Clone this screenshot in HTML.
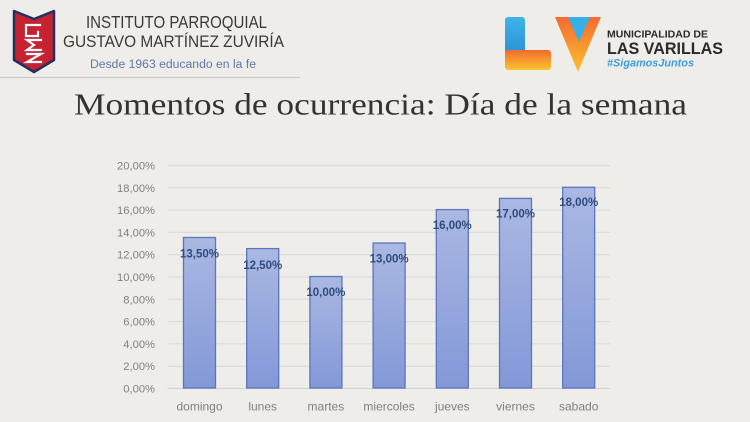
<!DOCTYPE html>
<html>
<head>
<meta charset="utf-8">
<style>
  html,body{margin:0;padding:0;background:#eeede9;}
  body{width:750px;height:422px;overflow:hidden;}
  svg{display:block;}
</style>
</head>
<body>
<svg width="750" height="422" viewBox="0 0 750 422" xmlns="http://www.w3.org/2000/svg">
  <defs>
    <linearGradient id="barg" x1="0" y1="0" x2="0" y2="1">
      <stop offset="0" stop-color="#aab8e2"/>
      <stop offset="1" stop-color="#8398d8"/>
    </linearGradient>
    <linearGradient id="orng" x1="0" y1="0" x2="0" y2="1">
      <stop offset="0" stop-color="#f26a2e"/>
      <stop offset="1" stop-color="#fbc531"/>
    </linearGradient>
    <linearGradient id="vg" x1="0" y1="0" x2="0" y2="1">
      <stop offset="0" stop-color="#f46a30"/>
      <stop offset="1" stop-color="#fcc02e"/>
    </linearGradient>
    <linearGradient id="blg" x1="0" y1="0" x2="0" y2="1">
      <stop offset="0" stop-color="#3fb4ea"/>
      <stop offset="1" stop-color="#2a8fd6"/>
    </linearGradient>
  </defs>
  <rect width="750" height="422" fill="#eeede9"/>

  <!-- Shield logo -->
  <path d="M14,11 L34,19 L54,11 L54,60 L34,72 L14,60 Z" fill="#c62232" stroke="#22315f" stroke-width="2.5" stroke-linejoin="round"/>
  <g stroke="#ffffff" stroke-width="2.2" fill="none" stroke-linecap="square">
    <path d="M40,25 L26,25 L26,36 L38,36 L38,32"/>
    <path d="M41,40 L27,40 L34,45 L27,50 L41,50"/>
    <path d="M27,54 L41,54 L27,62 L41,62"/>
  </g>

  <!-- Institute text -->
  <text x="86" y="28" font-family="Liberation Sans, sans-serif" font-size="17.5" fill="#3a3a3a" textLength="181" lengthAdjust="spacingAndGlyphs">INSTITUTO PARROQUIAL</text>
  <text x="63" y="47" font-family="Liberation Sans, sans-serif" font-size="17" fill="#3a3a3a" textLength="221" lengthAdjust="spacingAndGlyphs">GUSTAVO MARTÍNEZ ZUVIRÍA</text>
  <text x="90" y="68" font-family="Liberation Sans, sans-serif" font-size="11.5" fill="#6676a6" textLength="166" lengthAdjust="spacingAndGlyphs">Desde 1963 educando en la fe</text>
  <line x1="0" y1="77.5" x2="300" y2="77.5" stroke="#c6c6c6" stroke-width="1"/>

  <!-- LV logo -->
  <rect x="505" y="17" width="20" height="38" rx="3" fill="url(#blg)"/>
  <rect x="505" y="50" width="46" height="20" rx="3" fill="url(#orng)"/>
  <path d="M555,17 L601,17 L578,72 Z" fill="url(#vg)"/>
  <path d="M568,17 L590,17 L579,42 Z" fill="#3aaee6"/>

  <text x="607" y="37.5" font-family="Liberation Sans, sans-serif" font-weight="bold" font-size="10.5" fill="#2a2a2a" textLength="101" lengthAdjust="spacingAndGlyphs">MUNICIPALIDAD DE</text>
  <text x="607" y="54" font-family="Liberation Sans, sans-serif" font-weight="bold" font-size="16.5" fill="#2a2a2a" textLength="116" lengthAdjust="spacingAndGlyphs">LAS VARILLAS</text>
  <text x="607" y="66.5" font-family="Liberation Sans, sans-serif" font-weight="bold" font-style="italic" font-size="11" fill="#3a9fdc" textLength="87" lengthAdjust="spacingAndGlyphs">#SigamosJuntos</text>

  <!-- Title -->
  <text x="74" y="114.5" font-family="Liberation Serif, serif" font-size="30.5" fill="#333333" textLength="613" lengthAdjust="spacingAndGlyphs">Momentos de ocurrencia: Día de la semana</text>

  <!-- Gridlines -->
  <g stroke="#d8d8d6" stroke-width="1">
    <line x1="167.5" y1="165.5" x2="610" y2="165.5"/>
    <line x1="167.5" y1="187.8" x2="610" y2="187.8"/>
    <line x1="167.5" y1="210.1" x2="610" y2="210.1"/>
    <line x1="167.5" y1="232.4" x2="610" y2="232.4"/>
    <line x1="167.5" y1="254.7" x2="610" y2="254.7"/>
    <line x1="167.5" y1="277.0" x2="610" y2="277.0"/>
    <line x1="167.5" y1="299.3" x2="610" y2="299.3"/>
    <line x1="167.5" y1="321.6" x2="610" y2="321.6"/>
    <line x1="167.5" y1="343.9" x2="610" y2="343.9"/>
    <line x1="167.5" y1="366.2" x2="610" y2="366.2"/>
    <line x1="167.5" y1="388.5" x2="610" y2="388.5" stroke="#d0d0ce"/>
  </g>

  <!-- Y axis labels -->
  <g font-family="Liberation Sans, sans-serif" font-size="11.2" fill="#808080" text-anchor="end">
    <text x="155" y="169.5">20,00%</text>
    <text x="155" y="191.8">18,00%</text>
    <text x="155" y="214.1">16,00%</text>
    <text x="155" y="236.4">14,00%</text>
    <text x="155" y="258.7">12,00%</text>
    <text x="155" y="281.0">10,00%</text>
    <text x="155" y="303.3">8,00%</text>
    <text x="155" y="325.6">6,00%</text>
    <text x="155" y="347.9">4,00%</text>
    <text x="155" y="370.2">2,00%</text>
    <text x="155" y="392.5">0,00%</text>
  </g>

  <!-- Bars -->
  <g fill="url(#barg)" stroke="#5a76bc" stroke-width="1.3">
    <rect x="183.5" y="237.5" width="32" height="150.5"/>
    <rect x="246.7" y="248.6" width="32" height="139.4"/>
    <rect x="309.9" y="276.5" width="32" height="111.5"/>
    <rect x="373.1" y="243.0" width="32" height="145.0"/>
    <rect x="436.3" y="209.6" width="32" height="178.4"/>
    <rect x="499.5" y="198.4" width="32" height="189.6"/>
    <rect x="562.7" y="187.3" width="32" height="200.7"/>
  </g>

  <!-- Data labels -->
  <g font-family="Liberation Sans, sans-serif" font-weight="bold" font-size="11.5" fill="#2f4a7c" text-anchor="middle">
    <text x="199.5" y="257.5">13,50%</text>
    <text x="262.7" y="268.8">12,50%</text>
    <text x="325.9" y="296.0">10,00%</text>
    <text x="389.1" y="262.6">13,00%</text>
    <text x="452.3" y="229.0">16,00%</text>
    <text x="515.5" y="217.5">17,00%</text>
    <text x="578.7" y="206.0">18,00%</text>
  </g>

  <!-- Category labels -->
  <g font-family="Liberation Sans, sans-serif" font-size="12" fill="#808080" text-anchor="middle">
    <text x="199.5" y="410.5">domingo</text>
    <text x="262.7" y="410.5">lunes</text>
    <text x="325.9" y="410.5">martes</text>
    <text x="389.1" y="410.5">miercoles</text>
    <text x="452.3" y="410.5">jueves</text>
    <text x="515.5" y="410.5">viernes</text>
    <text x="578.7" y="410.5">sabado</text>
  </g>
</svg>
</body>
</html>
